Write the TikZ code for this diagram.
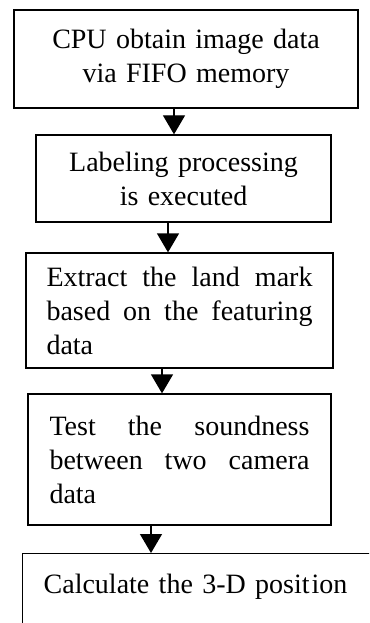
\documentclass[tikz,border=0pt]{standalone}
\usepackage{fontspec}
\setmainfont{Liberation Serif}
\usepackage{tikz}
\usetikzlibrary{arrows.meta}
\usetikzlibrary{calc}

\begin{document}
\begin{tikzpicture}[x=1pt,y=1pt]
        \useasboundingbox (0,0) rectangle (369,-623);
        \clip (0,0) rectangle (369,-623);

        \begin{scope}[every node/.style={draw=black,line width=1.3pt,rectangle,inner sep=0pt,
                font=\fontsize{28pt}{34pt}\selectfont}]
            \node[minimum width=344pt,minimum height=98pt,text width=330pt,align=center]
                (cpu) at (186,-59) {CPU obtain image data\\via FIFO memory};
            \node[minimum width=295pt,minimum height=87pt,text width=280pt,align=center]
                (label) at (183.5,-178.5) {Labeling processing\\is executed};
            \node[minimum width=307pt,minimum height=115pt,text width=266pt,align=justify]
                (extract) at (179.5,-310.5) {Extract the land mark\linebreak based on the featuring\linebreak data};
            \node[minimum width=303pt,minimum height=131pt,text width=260pt,align=justify]
                (test) at (179.5,-459.5) {Test the soundness\linebreak between two camera\linebreak data};
            \node[anchor=north west,inner xsep=21pt,text width=358pt,align=left,
                text height=40pt,text depth=80pt]
                (position) at (22,-553) {Calculate the 3-D posit\kern2pt ion};
        \end{scope}

        \begin{scope}[>={Triangle[width=22pt,length=19pt]},
                every path/.style={draw=black,line width=1.3pt}]
            \draw [->] ($(cpu.south)+(-12,0)$)      -- ($(label.north)+(-9.5,0)$);
            \draw [->] ($(label.south)+(-15.5,0)$)  -- ($(extract.north)+(-11.5,0)$);
            \draw [->] ($(extract.south)+(-17.5,0)$) -- ($(test.north)+(-17.5,0)$);
            \draw [->] ($(test.south)+(-28.5,0)$)   -- ($(position.north west)+(129,0)$);
        \end{scope}
    \end{tikzpicture}
\end{document}
